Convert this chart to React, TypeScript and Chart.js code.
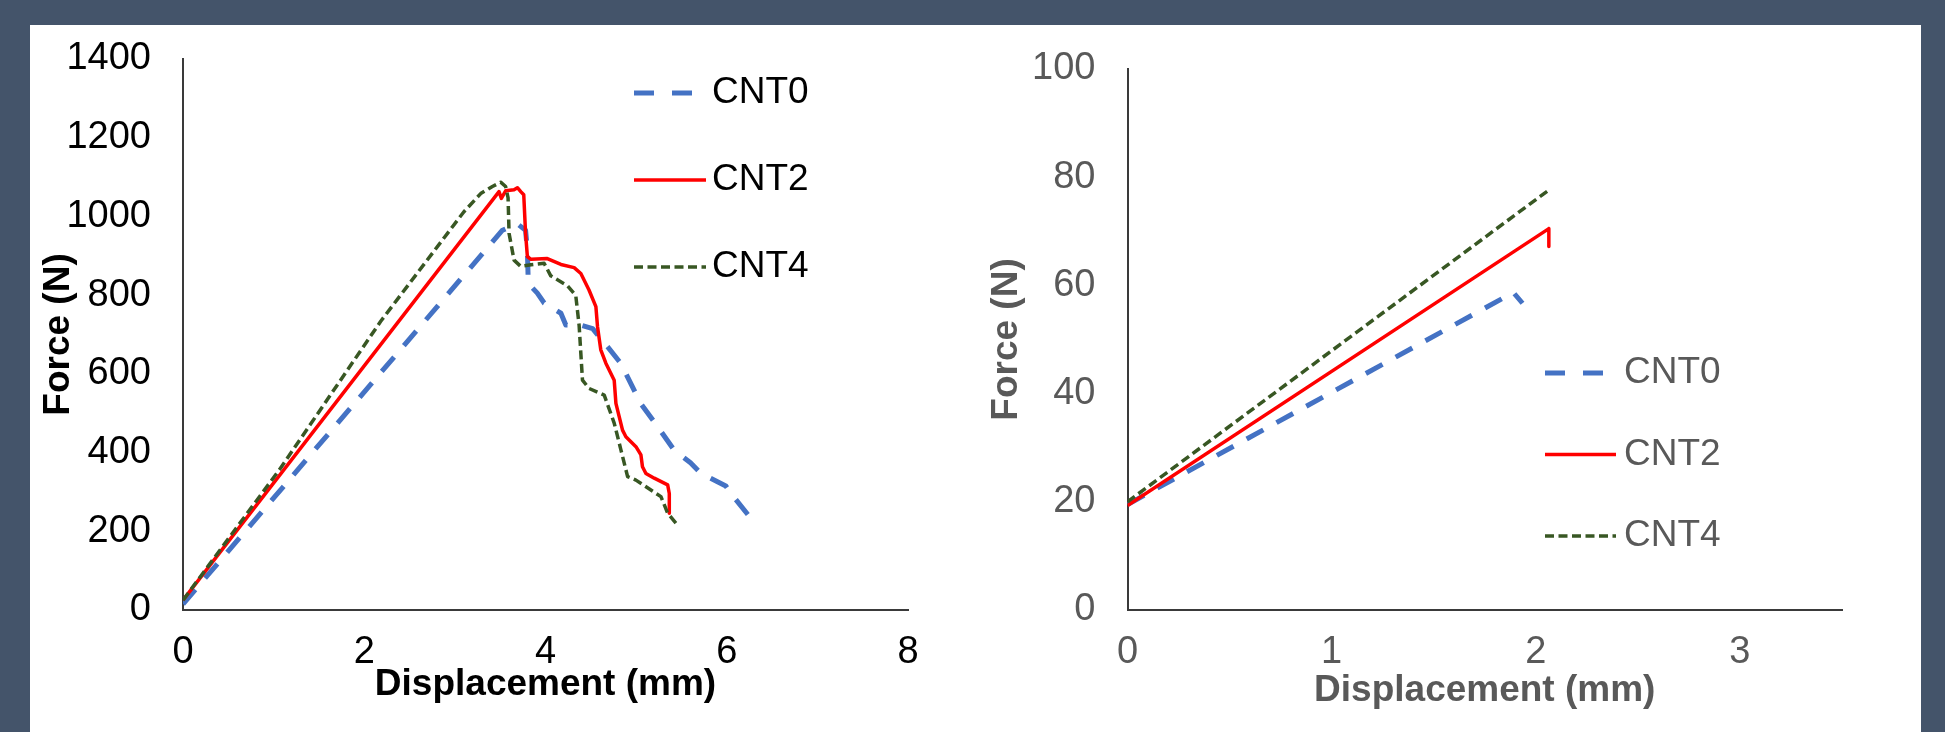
import React, { useEffect, useRef } from 'react';
import { Chart, registerables } from 'chart.js';

Chart.register(...registerables);

// ---------- Left chart data (Force N vs Displacement mm) ----------
const leftCnt0X = [0, 3.525, 3.69, 3.78, 3.8, 3.81, 3.91, 3.985, 4.17, 4.224, 4.39, 4.52, 4.684, 4.83, 5.05, 5.237, 5.42, 5.6, 5.716, 5.99, 6.06, 6.27];
const leftCnt0Y = [15, 965, 981, 965, 915, 830, 805, 780, 754, 724, 724, 715, 669, 627, 525, 466, 406, 374, 347, 315, 292, 232];

const leftCnt2X = [0, 3.487, 3.513, 3.56, 3.653, 3.69, 3.727, 3.76, 3.78, 3.8, 3.84, 4.02, 4.17, 4.316, 4.39, 4.48, 4.556, 4.574, 4.61, 4.666, 4.758, 4.777, 4.85, 4.887, 4.998, 5.053, 5.07, 5.108, 5.2, 5.348, 5.366, 5.366];
const leftCnt2Y = [25, 1063, 1046, 1065, 1068, 1073, 1063, 1055, 957, 898, 891, 893, 878, 870, 855, 813, 771, 720, 661, 627, 584, 525, 457, 440, 415, 394, 364, 347, 335, 318, 296, 246];

const leftCnt4X = [0, 1.075, 2.18, 3.1, 3.285, 3.414, 3.505, 3.56, 3.587, 3.598, 3.653, 3.727, 3.84, 3.985, 4.058, 4.242, 4.334, 4.371, 4.408, 4.48, 4.648, 4.758, 4.832, 4.906, 4.998, 5.163, 5.274, 5.348, 5.457];
const leftCnt4Y = [25, 360, 733, 1012, 1058, 1076, 1087, 1076, 1047, 957, 889, 873, 877, 881, 849, 824, 799, 723, 584, 563, 546, 475, 407, 339, 330, 305, 288, 246, 216];

// ---------- Right chart data ----------
const rightCnt0X = [0, 1.89, 1.935];
const rightCnt0Y = [19.5, 58.7, 56.7];
const rightCnt2X = [0, 2.064, 2.064];
const rightCnt2Y = [19.3, 70.5, 67.2];
const rightCnt4X = [0, 2.07];
const rightCnt4Y = [20, 77.8];

const seriesLabels = ['CNT0', 'CNT2', 'CNT4'];
const leftXTicks = { min: 0, max: 8, step: 2 };
const leftYTicks = { min: 0, max: 1400, step: 200 };
const rightXTicks = { min: 0, max: 3.5, step: 1 };
const rightYTicks = { min: 0, max: 100, step: 20 };
const xTitle = 'Displacement (mm)';
const yTitle = 'Force (N)';

const FONT = "'Liberation Sans', Arial, Helvetica, sans-serif";

const pts = (xs: number[], ys: number[]) => xs.map((x, i) => ({ x, y: ys[i] }));

const boxLegend = {
  id: 'boxLegend',
  afterDraw(chart: any, _args: any, opts: any) {
    const ctx = chart.ctx;
    ctx.save();
    chart.data.datasets.forEach((ds: any, i: number) => {
      const y = opts.y0 + i * opts.dy;
      ctx.strokeStyle = ds.borderColor;
      ctx.lineWidth = ds.borderWidth;
      ctx.lineCap = 'butt';
      ctx.setLineDash(ds.legendDash || ds.borderDash || []);
      ctx.beginPath();
      ctx.moveTo(opts.x0, y);
      ctx.lineTo(opts.x1s[i], y);
      ctx.stroke();
      ctx.setLineDash([]);
      ctx.fillStyle = opts.color;
      ctx.font = `${opts.size}px ${FONT}`;
      ctx.textBaseline = 'middle';
      ctx.textAlign = 'left';
      ctx.fillText(ds.label, opts.textX, y);
    });
    ctx.restore();
  },
};

function makeDatasets(a: any[], b: any[], c: any[]) {
  return [
    { label: seriesLabels[0], data: a, borderColor: '#4472C4', borderWidth: 5, borderDash: [19, 15], legendDash: [20, 18], order: 2 },
    { label: seriesLabels[1], data: b, borderColor: '#FF0000', borderWidth: 3.5, order: 1 },
    { label: seriesLabels[2], data: c, borderColor: '#385723', borderWidth: 3.5, borderDash: [9, 4.5], order: 0 },
  ].map((d) => ({ ...d, pointRadius: 0, tension: 0, fill: false, borderJoinStyle: 'round' as const }));
}

function makeConfig(p: any) {
  return {
    type: 'line' as const,
    data: { datasets: p.datasets },
    plugins: [boxLegend],
    options: {
      animation: false as const,
      responsive: true,
      maintainAspectRatio: false,
      layout: { padding: p.padding },
      plugins: {
        legend: { display: false },
        tooltip: { enabled: false },
        boxLegend: p.legend,
      },
      scales: {
        x: {
          type: 'linear' as const,
          min: p.xt.min,
          max: p.xt.max,
          afterFit: (s: any) => { s.height = p.xHeight; s.paddingLeft = 0; s.paddingRight = 0; },
          grid: { display: false, drawTicks: false },
          border: { display: true, color: p.axisColor, width: 2 },
          ticks: { stepSize: p.xt.step, includeBounds: false, padding: p.xTickPad, color: p.textColor, font: { family: FONT, size: 38 }, maxRotation: 0, callback: (v: any) => String(v) },
          title: { display: true, text: xTitle, color: p.textColor, font: { family: FONT, size: 37, weight: 'bold' }, padding: { top: 0, bottom: p.xTitlePad } },
        },
        y: {
          type: 'linear' as const,
          min: p.yt.min,
          max: p.yt.max,
          afterFit: (s: any) => { s.width = p.yWidth; s.paddingTop = 0; s.paddingBottom = 0; },
          grid: { display: false, drawTicks: false },
          border: { display: true, color: p.axisColor, width: 2 },
          ticks: { stepSize: p.yt.step, padding: 32, color: p.textColor, font: { family: FONT, size: 38 }, callback: (v: any) => String(v) },
          title: { display: true, text: yTitle, color: p.textColor, font: { family: FONT, size: 37, weight: 'bold' }, padding: { top: p.yTitlePad, bottom: 0 } },
        },
      },
    },
  };
}

function ChartBox({ style, config }: { style: React.CSSProperties; config: any }) {
  const ref = useRef<HTMLCanvasElement | null>(null);
  useEffect(() => {
    if (!ref.current) return;
    const chart = new Chart(ref.current, config);
    return () => chart.destroy();
  }, []);
  return (
    <div style={{ position: 'absolute', ...style }}>
      <canvas ref={ref} />
    </div>
  );
}

export default function App() {
  const leftCfg = makeConfig({
    datasets: makeDatasets(pts(leftCnt0X, leftCnt0Y), pts(leftCnt2X, leftCnt2Y), pts(leftCnt4X, leftCnt4Y)),
    padding: { top: 34, right: 52, bottom: 0, left: 0 },
    xt: leftXTicks,
    yt: leftYTicks,
    xHeight: 122,
    yWidth: 153,
    xTickPad: 20,
    xTitlePad: 25,
    yTitlePad: 6.6,
    textColor: '#000000',
    axisColor: '#3a3a3a',
    legend: { x0: 604, x1s: [662, 676, 676], textX: 682, y0: 68, dy: 87, size: 37, color: '#000000' },
  });
  const rightCfg = makeConfig({
    datasets: makeDatasets(pts(rightCnt0X, rightCnt0Y), pts(rightCnt2X, rightCnt2Y), pts(rightCnt4X, rightCnt4Y)),
    padding: { top: 44, right: 79, bottom: 0, left: 0 },
    xt: rightXTicks,
    yt: rightYTicks,
    xHeight: 122,
    yWidth: 167.5,
    xTickPad: 20,
    xTitlePad: 19,
    yTitlePad: 24.8,
    textColor: '#595959',
    axisColor: '#3a3a3a',
    legend: { x0: 585, x1s: [643, 656, 656], textX: 664, y0: 348, dy: 81.5, size: 37, color: '#595959' },
  });
  return (
    <div style={{ position: 'absolute', left: 0, top: 0, width: 1945, height: 732, background: '#44546A', overflow: 'hidden' }}>
      <div style={{ position: 'absolute', left: 30, top: 25, width: 1891, height: 707, background: '#FFFFFF' }} />
      <ChartBox style={{ left: 30, top: 25, width: 930, height: 707 }} config={leftCfg} />
      <ChartBox style={{ left: 960, top: 25, width: 961, height: 707 }} config={rightCfg} />
    </div>
  );
}
